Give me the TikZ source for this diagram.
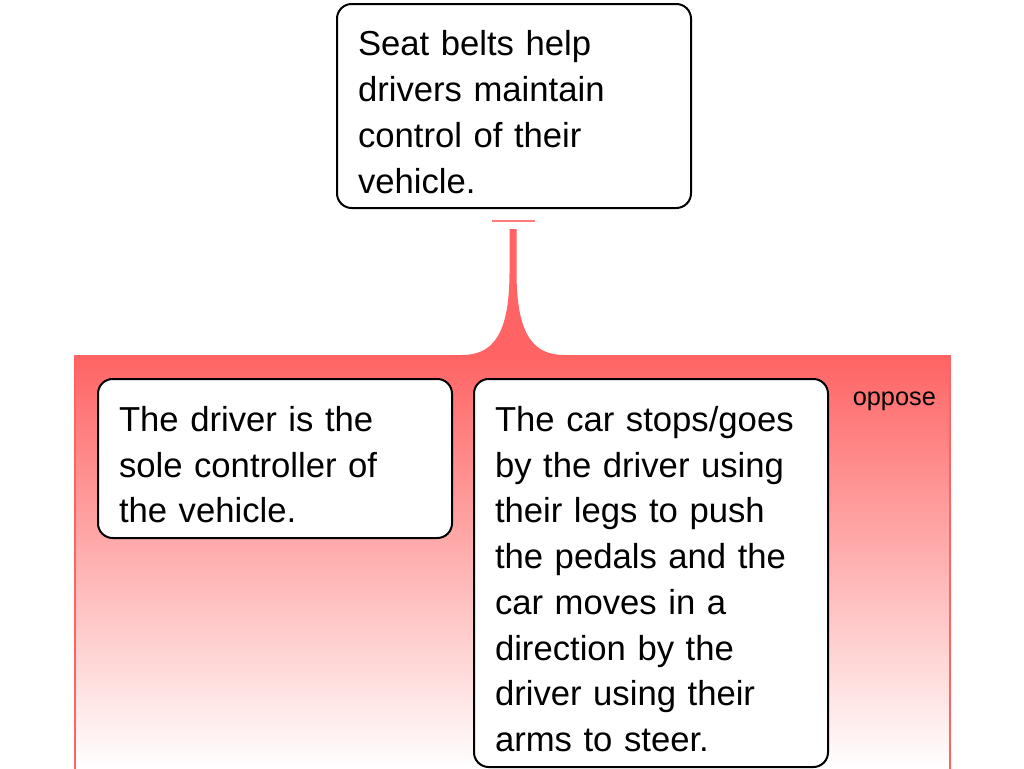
\documentclass[tikz,border=0pt]{standalone}
\usepackage{fontspec}
\setmainfont{Liberation Sans}
\usepackage{xcolor}
\usetikzlibrary{calc}

\definecolor{opred}{RGB}{255,99,99}
\definecolor{teered}{RGB}{255,122,122}
\newcommand{\firstgap}{\rule{0pt}{28pt}}

\begin{document}
\begin{tikzpicture}[x=0.75pt,y=-0.75pt]
\tikzset{claimbox/.style={draw,fill=white,line width=1.5pt,rounded corners=11pt,anchor=north west,inner xsep=15.75pt,inner ysep=0pt,text width=234pt,align=left,font=\fontsize{26pt}{34.3pt}\selectfont}}
\tikzset{oppgroup/.style={anchor=north west,inner sep=0pt,top color=opred,bottom color=white,minimum width=655.5pt,minimum height=309.75pt}}
\tikzset{sideline/.style={opred,line width=1.5pt}}

\useasboundingbox (0,0) rectangle (1024,768);

\node[oppgroup] (opp) at (75,355) {};
\draw[sideline] (opp.north west) -- (opp.south west);
\draw[sideline] (opp.north east) -- (opp.south east);
\node[anchor=base west,inner sep=0pt,font=\fontsize{19pt}{23pt}\selectfont] (oppLabel) at ($(opp.north east)+(-97,50)$) {oppose};

\node[claimbox,minimum height=153pt] (claim) at (336,3) {\firstgap Seat belts help\\drivers maintain\\control of their\\vehicle.};
\node[claimbox,minimum height=119.25pt] (sole) at (97,378) {\firstgap The driver is the\\sole controller of\\the vehicle.};
\node[claimbox,minimum height=291pt] (pedals) at (473,378) {\firstgap The car stops/goes\\by the driver using\\their legs to push\\the pedals and the\\car moves in a\\direction by the\\driver using their\\arms to steer.};

% opposing link
\coordinate (tee) at ($(claim.south)+(-1,12)$);
\coordinate (stem) at ($(claim.south)+(-1,20)$);
\coordinate (hub) at (stem |- opp.north);
\draw[teered,line width=1.5pt] ($(tee)+(-21.5,0)$) -- ($(tee)+(21.5,0)$);
\fill[opred] ($(stem)+(-3.5,0)$) -- ($(stem)+(-3.5,43)$) .. controls +(0,65) and +(30,0) .. ($(hub)+(-51.5,0)$)
  -- ($(hub)+(51.5,0)$) .. controls +(-30,0) and +(0,65) .. ($(stem)+(3.5,43)$) -- ($(stem)+(3.5,0)$) -- cycle;

\end{tikzpicture}
\end{document}
